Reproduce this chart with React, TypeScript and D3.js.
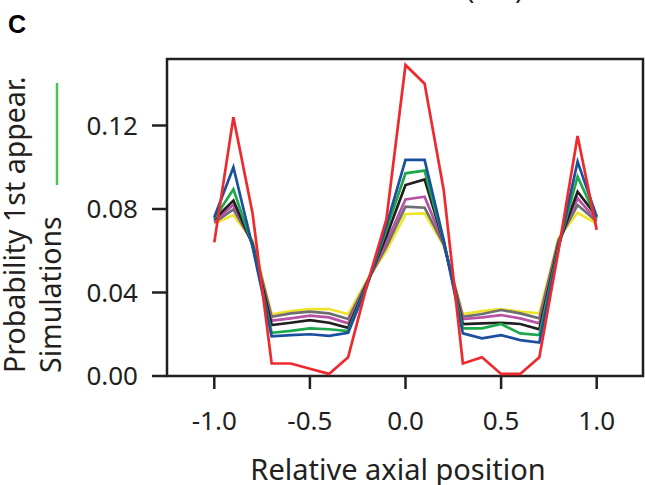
import React from "react";
import * as d3 from "d3";

const positions = [-1.0, -0.9, -0.8, -0.7, -0.6, -0.5, -0.4, -0.3, -0.2, -0.1, 0.0, 0.1, 0.2, 0.3, 0.4, 0.5, 0.6, 0.7, 0.8, 0.9, 1.0];

const yellow = [0.073, 0.0771, 0.065, 0.0296, 0.0311, 0.032, 0.0321, 0.0296, 0.046, 0.060, 0.0776, 0.0779, 0.0625, 0.0297, 0.0311, 0.0321, 0.0308, 0.030, 0.066, 0.0782, 0.073];
const gray = [0.0735, 0.0798, 0.064, 0.0284, 0.030, 0.0308, 0.030, 0.0273, 0.0455, 0.062, 0.0811, 0.0806, 0.063, 0.0284, 0.0297, 0.0316, 0.030, 0.0276, 0.065, 0.0819, 0.074];
const magenta = [0.074, 0.082, 0.0635, 0.0265, 0.0276, 0.0289, 0.0281, 0.0252, 0.045, 0.064, 0.0846, 0.0859, 0.0635, 0.0273, 0.0281, 0.0292, 0.0276, 0.0252, 0.064, 0.0851, 0.0745];
const black = [0.075, 0.084, 0.063, 0.0244, 0.0255, 0.0268, 0.0255, 0.0231, 0.0445, 0.067, 0.0915, 0.0942, 0.064, 0.0249, 0.0252, 0.0255, 0.0249, 0.0224, 0.063, 0.0883, 0.0765];
const green = [0.0755, 0.0894, 0.0625, 0.0207, 0.0216, 0.0228, 0.0224, 0.0215, 0.044, 0.070, 0.0971, 0.0984, 0.0645, 0.0228, 0.0228, 0.0249, 0.0204, 0.0196, 0.062, 0.0955, 0.0755];
const blue = [0.076, 0.100, 0.062, 0.019, 0.0196, 0.020, 0.0192, 0.0207, 0.0435, 0.072, 0.1035, 0.1035, 0.065, 0.0204, 0.018, 0.0196, 0.0172, 0.016, 0.061, 0.1027, 0.0763];
const red = [0.064, 0.124, 0.078, 0.006, 0.006, 0.0035, 0.001, 0.009, 0.044, 0.075, 0.149, 0.140, 0.089, 0.006, 0.009, 0.001, 0.001, 0.009, 0.060, 0.115, 0.070];

const seriesList = [
  { name: "yellow", values: yellow, color: "#eee52a" },
  { name: "gray", values: gray, color: "#6d6e71" },
  { name: "magenta", values: magenta, color: "#b852a5" },
  { name: "black", values: black, color: "#231f20" },
  { name: "green", values: green, color: "#1ea84b" },
  { name: "blue", values: blue, color: "#1b4f9f" },
  { name: "red", values: red, color: "#ee2a2e" },
];

const xTicks = [-1.0, -0.5, 0.0, 0.5, 1.0];
const yTicks = [0.0, 0.04, 0.08, 0.12];

const FONT = "'Noto Sans', sans-serif";

export default function App() {
  const x = d3.scaleLinear().domain([-1, 1]).range([214.3, 596.7]);
  const y = d3.scaleLinear().domain([0, 0.12]).range([376, 125.5]);
  const frame = { left: 167, top: 59, right: 643, bottom: 376 };

  const line = d3
    .line<number>()
    .x((_, i) => x(positions[i]))
    .y((d) => y(d));

  return (
    <svg width={645} height={485} style={{ position: "absolute", left: 0, top: 0, background: "#fff" }}>
      <rect x={0} y={0} width={645} height={485} fill="#fff" />
      {/* cut-off title remnants */}
      <text x={466} y={-1} fontFamily={FONT} fontSize={28} fill="#231f20">(</text>
      <text x={515} y={-1} fontFamily={FONT} fontSize={28} fill="#231f20">)</text>
      <text x={8} y={33} fontFamily={"'Liberation Sans', Arial, sans-serif"} fontWeight="bold" fontSize={25} fill="#000">C</text>

      {/* frame */}
      <path
        d={`M${frame.left},${frame.bottom} L${frame.left},${frame.top} L${frame.right},${frame.top} L${frame.right},${frame.bottom} Z`}
        fill="none"
        stroke="#231f20"
        strokeWidth={2.5}
      />

      {/* series */}
      {seriesList.map((s) => (
        <path key={s.name} d={line(s.values) || ""} fill="none" stroke={s.color} strokeWidth={2.7} strokeLinejoin="miter" />
      ))}

      {/* y ticks */}
      {yTicks.map((t) => (
        <g key={"y" + t}>
          <line x1={152} x2={frame.left} y1={y(t)} y2={y(t)} stroke="#231f20" strokeWidth={2.5} />
          <text x={138} y={y(t)} dy="0.35em" textAnchor="end" fontFamily={FONT} fontSize={26} fill="#231f20">
            {t.toFixed(2)}
          </text>
        </g>
      ))}

      {/* x ticks */}
      {xTicks.map((t) => (
        <g key={"x" + t}>
          <line x1={x(t)} x2={x(t)} y1={frame.bottom} y2={389} stroke="#231f20" strokeWidth={2.5} />
          <text x={x(t)} y={430} textAnchor="middle" fontFamily={FONT} fontSize={26} fill="#231f20">
            {t.toFixed(1)}
          </text>
        </g>
      ))}

      <text x={398} y={480} textAnchor="middle" fontFamily={FONT} fontSize={29} fill="#231f20">
        Relative axial position
      </text>

      <text transform="translate(25,373) rotate(-90)" fontFamily={FONT} fontSize={28.5} fill="#231f20">
        Probability 1st appear.
      </text>
      <text transform="translate(61,373) rotate(-90)" fontFamily={FONT} fontSize={28.5} fill="#231f20">
        Simulations
      </text>
      <line x1={57} x2={57} y1={83} y2={185} stroke="#4cbf5a" strokeWidth={2.5} />
    </svg>
  );
}
